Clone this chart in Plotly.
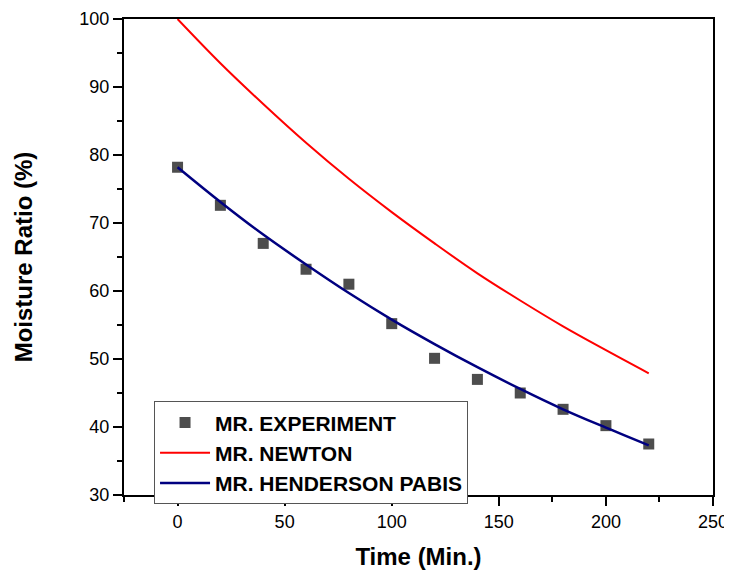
import plotly.graph_objects as go

tiempo_exp = [0, 20, 40, 60, 80, 100, 120, 140, 160, 180, 200, 220]
mr_experimento = [78.2, 72.6, 67.0, 63.2, 61.0, 55.2, 50.1, 47.0, 45.0, 42.6, 40.2, 37.5]

# Curvas de modelo
tiempo_modelo = [0, 20, 40, 60, 80, 100, 120, 140, 160, 180, 200, 220]
mr_newton = [100.0, 93.5, 87.5, 81.8, 76.5, 71.6, 67.0, 62.6, 58.6, 54.8, 51.3, 47.9]
mr_henderson = [78.2, 73.1, 68.3, 63.9, 59.7, 55.8, 52.2, 48.8, 45.6, 42.6, 39.9, 37.3]

FUENTE = "Liberation Sans, Arial, sans-serif"

fig = go.Figure()
fig.add_trace(go.Scatter(
    x=tiempo_exp, y=mr_experimento, mode="markers", name="MR. EXPERIMENT",
    marker=dict(symbol="square", size=11, color="#4d4d4d"),
))
fig.add_trace(go.Scatter(
    x=tiempo_modelo, y=mr_newton, mode="lines", name="MR. NEWTON",
    line=dict(color="#ff0000", width=2, shape="spline"),
))
fig.add_trace(go.Scatter(
    x=tiempo_modelo, y=mr_henderson, mode="lines", name="MR. HENDERSON PABIS",
    line=dict(color="#000080", width=2.5, shape="spline"),
))

eje = dict(
    showline=True, linecolor="black", linewidth=2, mirror=True,
    showgrid=False, zeroline=False,
    ticks="outside", ticklen=9, tickwidth=1.5, tickcolor="black",
    tickfont=dict(size=18, color="black", family=FUENTE),
    minor=dict(ticks="outside", ticklen=5, tickwidth=1.5, tickcolor="black"),
)
fuente_titulo = dict(size=24, color="black", family=FUENTE, weight="bold")

fig.update_xaxes(
    range=[-25, 250], tickvals=[0, 50, 100, 150, 200, 250],
    minor_tickvals=[-25, 25, 75, 125, 175, 225],
    title=dict(text="Time (Min.)", font=fuente_titulo, standoff=23),
    **eje,
)
fig.update_yaxes(
    range=[30, 100], tickvals=[30, 40, 50, 60, 70, 80, 90, 100],
    minor_tickvals=[35, 45, 55, 65, 75, 85, 95],
    title=dict(text="Moisture Ratio (%)", font=fuente_titulo, standoff=40),
    **eje,
)

# la página añade 8 px de margen al cuerpo: se compensa en tamaño y márgenes
fig.update_layout(
    width=724, height=562,
    paper_bgcolor="white", plot_bgcolor="white",
    margin=dict(l=116, r=19, t=11, b=75, autoexpand=False),
    font=dict(family=FUENTE, color="black"),
    legend=dict(
        x=0.051, y=0.197, xanchor="left", yanchor="top",
        bgcolor="white", bordercolor="#555555", borderwidth=1,
        font=dict(size=21, color="black", family=FUENTE, weight="bold"),
        tracegroupgap=0, itemwidth=50,
    ),
)

fig.write_html("out.html")
